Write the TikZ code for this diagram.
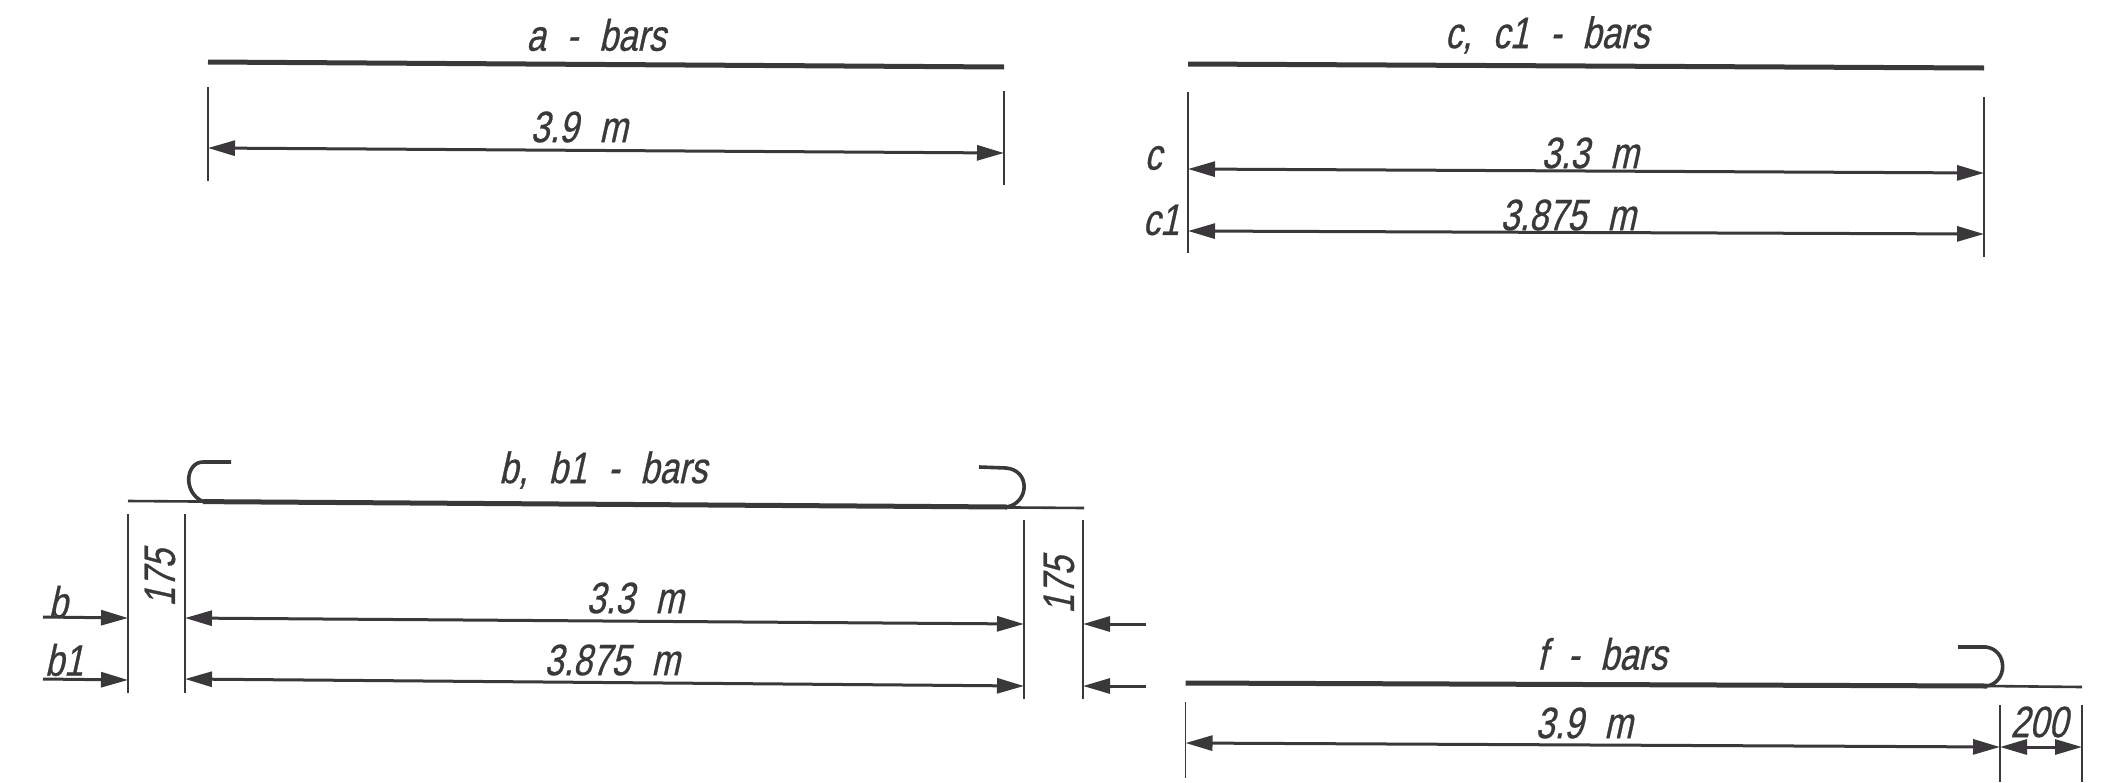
\documentclass[tikz,border=0pt]{standalone}
\usepackage{fontspec}
\setmainfont[FakeSlant=0.22,FakeStretch=0.78,FakeBold=0.6,WordSpace=2.2]{Liberation Sans}
\usetikzlibrary{arrows.meta}
\definecolor{ink}{HTML}{3A383A}
\tikzset{
  x=1pt,y=-1pt,
  barline/.style={draw=ink,line width=5pt},
  refline/.style={draw=ink,line width=2.6pt},
  hook/.style={draw=ink,line width=3.6pt},
  ext/.style={draw=ink,line width=1.6pt},
  dim/.style={draw=ink,line width=3pt,{Triangle[length=27pt,width=15pt]}-{Triangle[length=27pt,width=15pt]}},
  lead/.style={draw=ink,line width=3pt,-{Triangle[length=27pt,width=15pt]}},
  lbl/.style={text=ink,inner sep=0pt,font=\fontsize{44}{44}\selectfont}
}
\begin{document}
\begin{tikzpicture}
\useasboundingbox (0,0) rectangle (2108,782);
% a bars
\coordinate (a1) at (208,62); \coordinate (a2) at (1004,67);
\coordinate (a1t) at (208,87); \coordinate (a1b) at (208,181);
\coordinate (a2t) at (1004,91); \coordinate (a2b) at (1004,185);
\coordinate (ad1) at (208,148); \coordinate (ad2) at (1004,153);
\draw[barline] (a1) -- (a2);
\draw[ext] (a1t) -- (a1b);
\draw[ext] (a2t) -- (a2b);
\draw[dim] (ad1) -- (ad2);
\node[lbl] (atitle) at (596,35) {a - bars};
\node[lbl] (adim) at (579,127) {3.9 m};
% c bars
\coordinate (c1) at (1188,64); \coordinate (c2) at (1984,68);
\coordinate (c1t) at (1188,92); \coordinate (c1b) at (1188,253);
\coordinate (c2t) at (1984,97); \coordinate (c2b) at (1984,257);
\coordinate (cd1) at (1188,169); \coordinate (cd2) at (1984,173);
\coordinate (ce1) at (1188,231); \coordinate (ce2) at (1984,234);
\draw[barline] (c1) -- (c2);
\draw[ext] (c1t) -- (c1b);
\draw[ext] (c2t) -- (c2b);
\draw[dim] (cd1) -- (cd2);
\draw[dim] (ce1) -- (ce2);
\node[lbl] (ctitle) at (1547,35) {c, c1 - bars};
\node[lbl] (cdim) at (1590,153) {3.3 m};
\node[lbl] (cedim) at (1568,215) {3.875 m};
\node[lbl] (clab) at (1153,158) {c};
\node[lbl] (c1lab) at (1161,220) {c1};
% b bars
\coordinate (b0) at (128,501); \coordinate (b3) at (1084,508);
\coordinate (b1) at (203,501.6); \coordinate (b2) at (1007,507);
\coordinate (hl) at (231,462); \coordinate (hr) at (979,467);
\draw[refline] (b0) -- (b3);
\draw[barline] (b1) -- (b2);
\draw[hook] (hl) -- (203,462) .. controls (186,462) and (182,492) .. (b1);
\draw[hook] (hr) -- (1006,468) .. controls (1030,470) and (1030,502) .. (b2);
\coordinate (e1t) at (128,514); \coordinate (e1b) at (128,693);
\coordinate (e2t) at (185,514); \coordinate (e2b) at (185,693);
\coordinate (e3t) at (1024,520); \coordinate (e3b) at (1024,699);
\coordinate (e4t) at (1083,520); \coordinate (e4b) at (1083,699);
\draw[ext] (e1t) -- (e1b);
\draw[ext] (e2t) -- (e2b);
\draw[ext] (e3t) -- (e3b);
\draw[ext] (e4t) -- (e4b);
\coordinate (bd1) at (185,618); \coordinate (bd2) at (1024,624);
\coordinate (be1) at (185,679); \coordinate (be2) at (1024,686);
\draw[dim] (bd1) -- (bd2);
\draw[dim] (be1) -- (be2);
\coordinate (bl1) at (43,617); \coordinate (bl2) at (128,618);
\coordinate (bm1) at (43,679); \coordinate (bm2) at (128,680);
\draw[lead] (bl1) -- (bl2);
\draw[lead] (bm1) -- (bm2);
\coordinate (br1) at (1146,624); \coordinate (br2) at (1083,624);
\coordinate (bs1) at (1146,686); \coordinate (bs2) at (1083,686);
\draw[lead] (br1) -- (br2);
\draw[lead] (bs1) -- (bs2);
\node[lbl] (btitle) at (603,470) {b, b1 - bars};
\node[lbl] (bdim) at (635,598) {3.3 m};
\node[lbl] (bedim) at (612,660) {3.875 m};
\node[lbl,rotate=90] (bl175) at (160,578) {175};
\node[lbl,rotate=90] (br175) at (1059,585) {175};
\node[lbl] (blab) at (58,602) {b};
\node[lbl] (b1lab) at (64,660) {b1};
% f bars
\coordinate (f0) at (1185.5,683); \coordinate (f3) at (2082,687);
\coordinate (f2) at (1987,686);
\coordinate (fh) at (1958,647);
\draw[refline] (f2) -- (f3);
\draw[barline] (f0) -- (f2);
\draw[hook] (fh) -- (1986,647) .. controls (2008,650) and (2008,682) .. (f2);
\coordinate (g1t) at (1185.5,702); \coordinate (g1b) at (1185.5,778);
\coordinate (g2t) at (2000,705); \coordinate (g2b) at (2000,782);
\coordinate (g3t) at (2082,705); \coordinate (g3b) at (2082,782);
\draw[ext] (g1t) -- (g1b);
\draw[ext] (g2t) -- (g2b);
\draw[ext] (g3t) -- (g3b);
\coordinate (fd1) at (1185.5,743); \coordinate (fd2) at (2000,747);
\coordinate (fe2) at (2082,747);
\draw[dim] (fd1) -- (fd2);
\draw[dim] (fd2) -- (fe2);
\node[lbl] (ftitle) at (1602,654) {f - bars};
\node[lbl] (fdim) at (1584,723) {3.9 m};
\node[lbl] (f200) at (2039,722) {200};
\end{tikzpicture}
\end{document}
